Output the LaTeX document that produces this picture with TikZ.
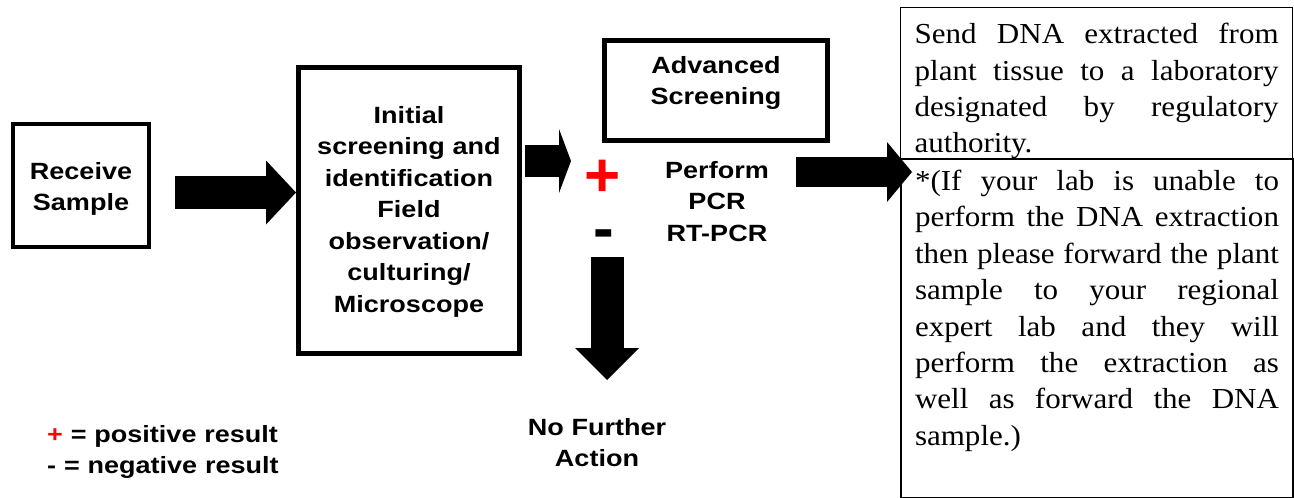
\documentclass[tikz,border=0pt]{standalone}
\usepackage{fontspec}
\setmainfont{Liberation Serif}[FakeStretch=1.07]
\newfontfamily\boxfont{Liberation Sans}[FakeStretch=1.15]
\newfontfamily\signfont{Liberation Sans}
\usetikzlibrary{arrows.meta, positioning, calc}
\definecolor{signred}{RGB}{255,0,0}
\hyphenpenalty=10000
\tolerance=10000

\begin{document}
\begin{tikzpicture}[x=1pt, y=-1pt]
    \tikzstyle{box} = [draw, rectangle, line width=5pt, inner sep=0pt, align=center, text height=18pt, font=\boxfont\bfseries\fontsize{23.5}{31.5}\selectfont]
    \tikzstyle{txt} = [inner sep=0pt, align=center, font=\boxfont\bfseries\fontsize{23.5}{31.5}\selectfont]
    \tikzstyle{sign} = [inner sep=0pt, font=\signfont\bfseries\fontsize{62}{62}\selectfont]
    \tikzstyle{note} = [draw, rectangle, anchor=north west, inner xsep=14pt, inner ysep=0pt, text width=364pt, align=justify, font=\fontsize{29}{36.4}\selectfont]
    \tikzset{bigarrow/.style n args={3}{line width=#1, -{Triangle[width=#2, length=#3, line width=0pt]}}}

    \useasboundingbox (0,0) rectangle (1294,498);

    % process boxes
    \node[box, line width=4pt, text width=130pt, minimum width=136pt, minimum height=123pt, text depth=31pt] (receive) at (81,185.5) {Receive\\Sample};
    \node[box, text width=215pt, minimum width=221pt, minimum height=286pt, text depth=193pt] (screen) at (409,210.5) {Initial\\screening and\\identification\\Field\\observation/\\culturing/\\Microscope};
    \node[box, text width=215pt, minimum width=223pt, minimum height=100pt, text depth=53pt] (advanced) at (716,90.5) {Advanced\\Screening};
    \node[txt, text width=150pt, anchor=base] (pcr) at (717,178) {Perform\\PCR\\RT-PCR};
    \node[txt, text width=170pt, anchor=base] (nofurther) at (597,435) {No Further\\Action};

    % result signs
    \node[sign, text=signred] (plus) at (603,178) {+};
    \node[sign, anchor=base] (minus) at (604,249) {-};

    % legend
    \node[txt, text width=260pt, anchor=base west, align=left] (legend) at (47,442) {\textcolor{signred}{+} = positive result\\- = negative result};

    % laboratory notes
    \node[note, line width=1.3pt, text height=36pt, text depth=115pt] (send) at (900,7) {Send DNA extracted from\linebreak plant tissue to a laboratory\linebreak designated by regulatory\linebreak authority.};
    \node[note, line width=2pt, text height=32pt, text depth=307pt] (extract) at (900,157.5) {*(If your lab is unable to\linebreak perform the DNA extraction\linebreak then please forward the plant\linebreak sample to your regional\linebreak expert lab and they will\linebreak perform the extraction as\linebreak well as forward the DNA\linebreak sample.)};

    % block arrows
    \coordinate (a1) at (175,192.5);
    \coordinate (a2) at (525,161);
    \coordinate (a2tip) at (571,161);
    \coordinate (a3) at (796,172);
    \coordinate (a3tip) at (912,172);
    \coordinate (a4) at (607,257);
    \coordinate (a4tip) at (607,380);
    \draw[bigarrow={33pt}{64pt}{30pt}] (a1) -- (a1 -| screen.west);
    \draw[bigarrow={32pt}{64pt}{12pt}] (a2) -- (a2tip);
    \draw[bigarrow={30pt}{60pt}{25pt}] (a3) -- (a3tip);
    \draw[bigarrow={33pt}{64pt}{32pt}] (a4) -- (a4tip);
\end{tikzpicture}
\end{document}
